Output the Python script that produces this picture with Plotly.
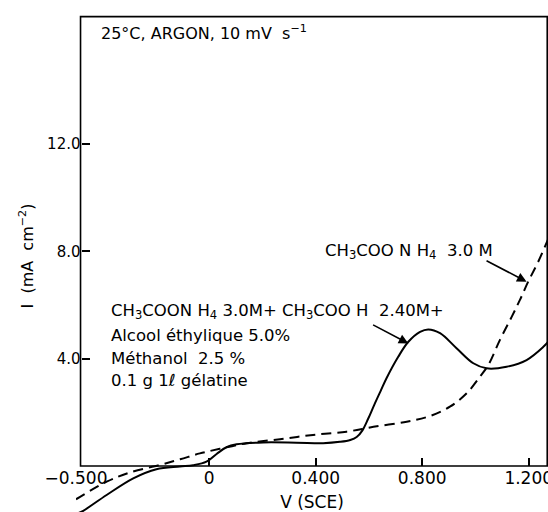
import plotly.graph_objects as go

# ---- data ----
solid_v = [-0.49, -0.473, -0.385, -0.285, -0.198, -0.11, -0.06, -0.01, 0.028, 0.065,
           0.103, 0.203, 0.328, 0.428, 0.491, 0.530, 0.554, 0.575, 0.597, 0.620,
           0.645, 0.666, 0.710, 0.748, 0.792, 0.823, 0.867, 0.929, 0.992, 1.042,
           1.117, 1.192, 1.256, 1.275]
solid_i = [-1.75, -1.67, -1.08, -0.46, -0.12, -0.02, 0.03, 0.16, 0.45, 0.70,
           0.81, 0.88, 0.87, 0.85, 0.90, 0.97, 1.08, 1.32, 1.76, 2.28,
           2.82, 3.27, 4.07, 4.63, 5.00, 5.09, 4.95, 4.39, 3.83, 3.64,
           3.70, 3.95, 4.45, 4.65]

dash_v = [-0.50, -0.385, -0.30, -0.185, -0.109, -0.035, 0.04, 0.14, 0.266, 0.39,
          0.516, 0.617, 0.742, 0.829, 0.904, 0.967, 1.017, 1.048, 1.092, 1.136,
          1.167, 1.198, 1.235, 1.275]
dash_i = [-1.24, -0.585, -0.25, 0.04, 0.25, 0.47, 0.64, 0.85, 1.00, 1.16,
          1.28, 1.46, 1.65, 1.86, 2.21, 2.71, 3.33, 3.76, 4.70, 5.56,
          6.19, 6.87, 7.60, 8.50]

x_tickvals = [-0.5, 0.0, 0.4, 0.8, 1.2]
x_ticktext = ["\u22120.500", "0", "0.400", "0.800", "1.200"]
y_tickvals = [4.0, 8.0, 12.0]
y_ticktext = ["4.0", "8.0", "12.0"]

X_RANGE = [-0.5, 1.2724]
Y_RANGE = [-1.714, 17.368]
FRAME = dict(x0=-0.483, x1=1.2695, y0=0.0, y1=16.75)

FONT = "DejaVu Sans"
x_axis_pos = (0 - Y_RANGE[0]) / (Y_RANGE[1] - Y_RANGE[0])
y_axis_pos = (FRAME["x0"] - X_RANGE[0]) / (X_RANGE[1] - X_RANGE[0])

fig = go.Figure()
fig.add_trace(go.Scatter(x=solid_v, y=solid_i, mode="lines", line_shape="spline",
                         line=dict(color="black", width=2), showlegend=False, hoverinfo="skip"))
fig.add_trace(go.Scatter(x=dash_v, y=dash_i, mode="lines", line_shape="spline",
                         line=dict(color="black", width=2, dash="10px,6px"),
                         showlegend=False, hoverinfo="skip"))
# empty trace so the tick-mark overlay axis is drawn
fig.add_trace(go.Scatter(x=[None], y=[None], xaxis="x2", yaxis="y", mode="lines",
                         showlegend=False, hoverinfo="skip"))

fig.add_shape(type="rect", xref="x", yref="y", layer="below",
              line=dict(color="black", width=1.6), fillcolor="rgba(0,0,0,0)", **FRAME)

black = "black"
fig.update_layout(
    width=548, height=512,
    margin=dict(l=76.2, r=0, t=0, b=0, autoexpand=False),
    paper_bgcolor="white", plot_bgcolor="white",
    font=dict(family=FONT, color=black, size=16),
    xaxis=dict(range=X_RANGE, anchor="free", position=x_axis_pos, automargin=False,
               showgrid=False, zeroline=False, showline=False,
               tickvals=x_tickvals, ticktext=x_ticktext, ticks="",
               ticklabeloverflow="allow",
               tickfont=dict(size=17, family=FONT, color=black),
               title=dict(text="V (SCE)", font=dict(size=17, family=FONT, color=black), standoff=10)),
    xaxis2=dict(range=X_RANGE, overlaying="x", anchor="free", position=x_axis_pos, automargin=False,
                showgrid=False, zeroline=False, showline=False,
                tickvals=x_tickvals[1:], ticks="inside", ticklen=8, tickwidth=1.6,
                tickcolor=black, showticklabels=False),
    yaxis=dict(range=Y_RANGE, anchor="free", position=y_axis_pos, automargin=False,
               showgrid=False, zeroline=False, showline=False,
               tickvals=y_tickvals, ticktext=y_ticktext, ticks="inside", ticklen=8,
               tickwidth=1.6, tickcolor=black,
               tickfont=dict(size=15, family=FONT, color=black),
               title=dict(text="I  (mA  cm<sup>\u22122</sup>)", standoff=8,
                          font=dict(size=16, family=FONT, color=black))),
)

def note(text, x, y, size=16):
    fig.add_annotation(text=text, x=x, y=y, xref="x", yref="y", showarrow=False,
                       xanchor="left", yanchor="middle",
                       font=dict(size=size, family=FONT, color=black))

note("25\u00b0C, ARGON, 10 mV  s<sup>\u22121</sup>", -0.414, 16.14, 16)
note("CH<sub>3</sub>COO N H<sub>4</sub>  3.0 M", 0.426, 8.0, 16.5)
note("CH<sub>3</sub>COON H<sub>4</sub> 3.0M+ CH<sub>3</sub>COO H  2.40M+", -0.376, 5.75, 16.5)
note("Alcool éthylique 5.0%", -0.376, 4.88, 16.5)
note("Méthanol  2.5 %", -0.376, 3.99, 16.5)
note("0.1 g 1\u2113 gélatine", -0.376, 3.17, 16.5)

# arrows pointing to the curves
fig.add_annotation(x=1.192, y=6.87, ax=1.036, ay=7.68, xref="x", yref="y", axref="x", ayref="y",
                   text="", showarrow=True, arrowhead=2, arrowsize=1.2, arrowwidth=1.6,
                   arrowcolor=black)
fig.add_annotation(x=0.748, y=4.57, ax=0.610, ay=5.29, xref="x", yref="y", axref="x", ayref="y",
                   text="", showarrow=True, arrowhead=2, arrowsize=1.2, arrowwidth=1.6,
                   arrowcolor=black)

fig.write_html("out.html")
